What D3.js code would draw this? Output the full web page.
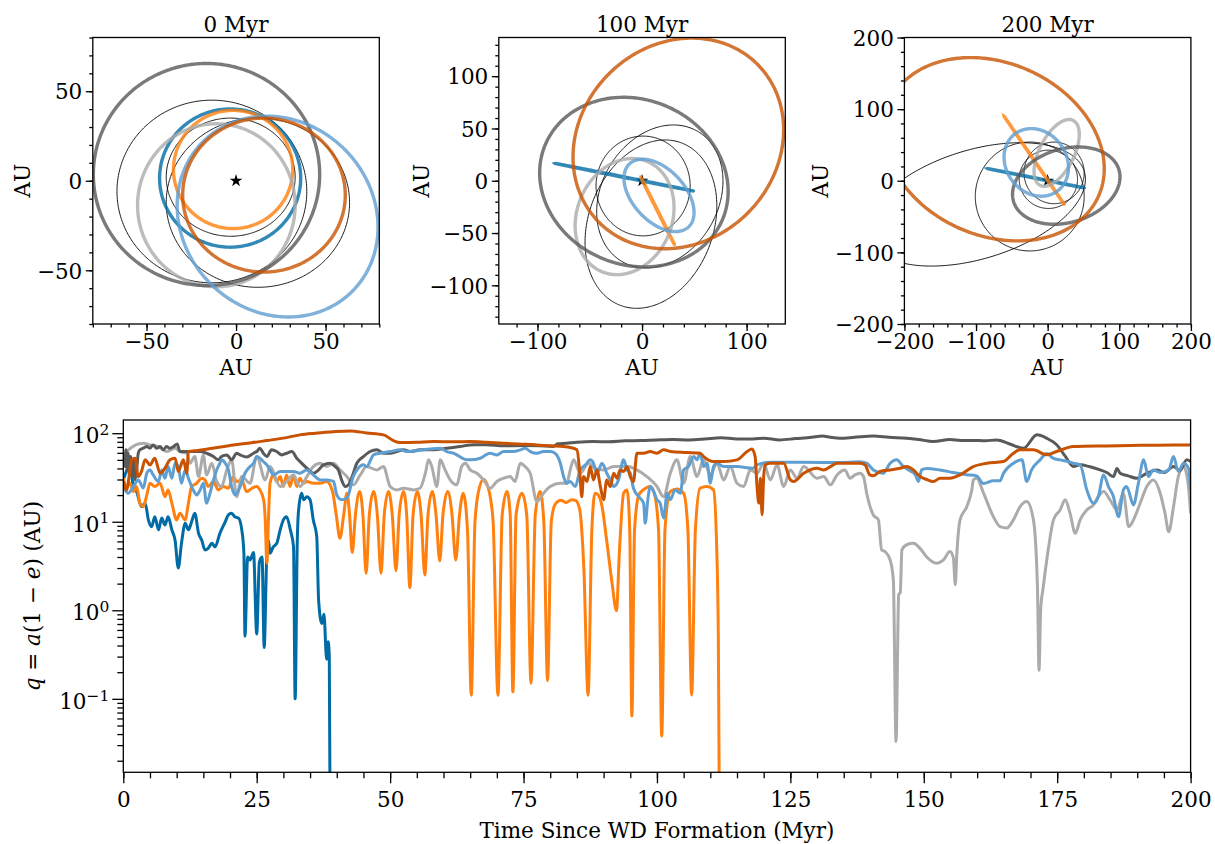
<!DOCTYPE html>
<html><head><meta charset="utf-8">
<script src="https://cdn.jsdelivr.net/npm/d3@7"></script>
<style>
body{margin:0;background:#fff;}
svg{display:block;}
</style></head><body>
<svg id="c" width="1215" height="844"></svg>
<script>
// ---------------- DATA ----------------
const seriesColors = ['#006BA4','#FF800E','#ABABAB','#595959','#5F9ED1','#C85200'];
const panelTitles = ['0 Myr','100 Myr','200 Myr'];
const panelLimits = [80, 137, 200];
const xTicks0 = [-50,0,50], yTicks0 = [-50,0,50];
const xTicks1 = [-100,0,100], yTicks1 = [-100,-50,0,50,100];
const xTicks2 = [-200,-100,0,100,200], yTicks2 = [-200,-100,0,100,200];
const minorStep0 = [10,10], minorStep1 = [20,10], minorStep2 = [20,20];

// orbits: [cx, cy, a, b, rotationDeg] in AU ; colored order = seriesColors
const orbits0 = [[-3.3,1.5,39.4,38.6,0],[-1.65,6.3,33.3,33,0],[-11,-13.7,44,45.5,0],[-16.5,3.5,63.2,62,0],[23.2,-20,59,53,-45],[15.6,-8,45.4,43,0]];
const others0 = [[-13.5,-6,53,51,0],[12.2,-12.2,51.2,47.3,0],[-3,2,36,33,0]];
const orbits1 = [[-17.05,3.4,67.4,0.3,-11.3],[14.85,-28.8,35.8,0.3,-63.4],[-16.7,-34.3,57,45.5,68],[-7.8,-1.3,92,79,-23],[16.2,-14,41.3,24.8,-47],[34.7,35.7,107,94,45]];
const others1 = [[1,-5,45,47.7,0],[17,-15,72,56,60],[8.5,-41.5,83,59.7,69.5]];
const orbits2 = [[-16.5,3.5,68.8,0.3,-11.3],[-18.9,28.6,74.3,0.3,-55.7],[12.6,38.9,50.8,24.2,63],[26,-6.8,76.8,51.4,16.8],[-15.9,25.6,49.7,42.2,-53.6],[-75,44,160,120.4,-24.3]];
const others2 = [[-100,-33,158,76,17],[-25,-22,76,76,0],[9,11,42,43,0],[1,2,40.7,40.7,0]];

// bottom panel: pericentre distance q (AU) vs time (Myr)
const timeTicks = [0,25,50,75,100,125,150,175,200];
const qTicks = [0.1,1,10,100];
const qTickExp = ['−1','0','1','2'];

const darkBlue = [[0,29.7],[1.25,42],[1.9,25],[2.5,21.9],[3.4,14.8],[4.1,16.2],[4.7,10.5],[5.3,8.8],[5.9,11.4],[6.6,8.1],[7.2,11],[7.8,9.2],[8.4,11.4],[9.1,8.1],[9.7,6.2],[10.3,3.0],[10.9,5.7],[11.6,9.6],[12.2,8.1],[12.8,10],[13.4,12.5],[14.1,7.4],[14.7,6.2],[15.3,4.8],[15.9,5],[16.6,5.7],[17.2,5.2],[18.1,7.4],[19.1,10],[19.7,12],[20.3,12.5],[20.9,11.4],[21.6,11],[22.2,8.1],[22.6,4.4],[22.8,0.51],[23.3,4],[23.75,3.7],[24.4,4.5],[25,0.54],[25.5,3.5],[26,4],[26.4,0.38],[26.9,4.4],[27.2,6.2],[27.5,4.4],[28.1,5.2],[28.75,5.7],[29.4,8.1],[30,10.5],[30.6,11.4],[31.3,8.1],[31.9,5.2],[32.2,0.1],[32.6,6],[32.8,12.5],[33.4,21],[33.8,17.7],[34.4,19.2],[35,17.7],[35.6,10.5],[36.25,6.8],[36.6,1.3],[37.2,0.71],[37.6,0.9],[38.1,0.28],[38.4,0.44],[38.6,0.3],[38.75,0.005]];
const orange = [[0,31],[0.6,25],[1.25,27.2],[1.9,21.9],[2.5,25],[3.1,16.2],[3.75,14.8],[4.4,20],[5,27.2],[5.9,25],[6.9,27.2],[7.8,19.2],[8.4,22.9],[9.1,16.2],[10,10.5],[10.6,12.5],[11.6,10.5],[12.2,16.2],[12.8,25],[13.75,27.2],[14.7,31],[15.3,29.7],[15.9,25],[16.9,28.5],[17.8,22.9],[18.75,25],[19.7,23.9],[20.6,32.4],[21.25,28.5],[22.2,29.7],[23.1,21.9],[24.1,23.9],[25,25],[25.6,22.9],[26.3,17.7],[26.6,10.5],[26.9,3.4],[27.2,10.5],[27.5,27.2],[28.1,33.8],[28.75,28.5],[29.4,32.4],[30,25],[30.6,33.8],[31.25,25],[31.9,33.8],[32.5,25],[33.1,31],[33.75,27.2],[34.4,28.5],[35.6,27.2],[36.9,27.2],[38.1,28.5],[39.2,22],[39.9,12],[40.6,6.5],[41.3,12],[41.9,21],[42.4,12],[42.9,4.5],[43.5,12],[44.3,22],[44.9,12],[45.5,2.6],[46.1,12],[46.9,22],[47.6,12],[48.3,2.6],[48.9,12],[49.7,22],[50.4,12],[51.1,2.8],[51.7,12],[52.5,22],[53.1,12],[53.7,1.8],[54.3,12],[55.1,22],[55.8,12],[56.5,2.5],[57.1,12],[57.9,22],[58.6,12],[59.3,3.6],[59.9,12],[60.8,22],[61.6,12],[62.3,3.7],[63,12],[63.7,21],[64.5,8],[65.2,0.11],[65.9,10],[66.7,24],[67.5,30],[68.4,24],[69.3,10],[70.2,0.11],[71,12],[71.9,22],[72.5,12],[73,0.12],[73.6,12],[74.7,21],[75.6,12],[76.4,0.15],[77.2,12],[78.1,22],[78.8,10],[79.5,0.16],[80.2,10],[81,16],[82,17.5],[83,16.5],[84,17.7],[84.7,17.5],[85.5,14],[86.3,3],[87.1,0.11],[87.8,8],[88.4,21],[89,20],[89.7,15],[90.6,6],[91.6,2],[92.4,0.99],[93,5],[93.75,21],[94.4,22.9],[94.9,8],[95.3,0.064],[95.8,8],[96.6,20],[97.5,23],[98.75,25],[99.5,21],[100.3,8],[100.9,0.038],[101.5,8],[102.5,22],[103.75,23.5],[105,21],[105.8,8],[106.5,0.11],[107.2,8],[108.1,24],[109.4,25],[110.6,22.9],[111.2,5],[111.5,0.5],[111.7,0.005]];
const lightGrey = [[0,55],[1,65],[2,72],[3,76],[3.75,77.1],[5,73.8],[6.6,70.6],[8.1,62.1],[9.7,67.7],[10.6,62.1],[11.9,59.4],[12.5,45.8],[13.4,54.5],[14.1,32.4],[15,56.9],[15.6,33.8],[16.6,45.8],[17.5,28.5],[18.4,25],[19.4,38.5],[20.3,50],[21.25,19.2],[22.2,32.4],[23.75,27.2],[25,54.5],[26.6,29.7],[27.5,42],[29.4,25],[30.6,28.5],[31.9,33.8],[33.1,25],[34.4,32.4],[35.6,42],[36.9,45.8],[38.1,42],[39.4,45.8],[40.6,38.5],[41.9,32.4],[43.1,26.1],[44.4,33.8],[45.6,42],[47.5,38.5],[48.75,42],[50,25],[51.25,22.9],[52.5,23.9],[54.4,22.9],[55.6,23.9],[56.6,35.3],[57.2,50],[57.8,42],[58.75,25],[59.4,50],[60.3,38.5],[61.25,29.7],[62.5,26.1],[63.4,42],[64.1,45.8],[65,38.5],[66.25,35.3],[67.5,29.7],[68.75,23.9],[70,28.5],[71.25,31],[72.5,32.4],[73.4,28.5],[74.4,45.8],[75.3,42],[76.25,35.3],[77.5,16.9],[78.75,21],[80,25],[81.9,27.2],[83.1,27.2],[83.75,38.5],[84.4,50],[85.6,35.3],[87.2,45.8],[88.4,40],[90,38.5],[91.9,42],[94.4,42],[96.25,38.5],[98.1,32.4],[100,25],[101.25,19.2],[102.5,35.3],[103.75,50],[105,27.2],[106.25,54.5],[107.5,32.4],[108.75,50],[110,33.8],[111.25,45.8],[112.5,29.7],[113.75,42],[115,27.2],[116.25,25],[117.5,38.5],[118.75,35.3],[120,45.8],[121.25,29.7],[122.5,43.9],[123.75,25],[125,38.5],[126.25,31],[127.5,42],[130,31],[131.25,32.4],[132.5,26.1],[133.75,33.8],[135.2,38.5],[136.2,31],[137.1,33.8],[138.05,35.3],[138.7,32.4],[139.3,21],[140.55,11.9],[141.5,10.5],[142.1,4.8],[142.75,4.6],[143.7,3.7],[144.3,2.2],[144.8,0.033],[145.3,1.5],[145.6,1.6],[145.9,4.8],[146.8,5.5],[148.05,5.7],[149.3,5.0],[150.55,4.0],[152.4,3.4],[153.7,3.7],[154.9,4.6],[155.55,3.9],[155.9,1.94],[156.2,4.4],[156.8,10.5],[158.05,14.8],[159,22.9],[159.3,29.7],[159.9,31],[161.2,21],[163.05,11.4],[164.3,8.8],[165.55,8.5],[166.8,10.5],[168.05,14.8],[169.3,16.9],[170.55,10.5],[171.3,1.85],[171.6,0.21],[171.9,1.0],[172.4,1.85],[173.4,5.2],[174.3,10.5],[175.55,13.6],[176.5,17.7],[177.4,12.5],[178.4,7.4],[179.3,10.5],[180.55,13.6],[181.8,15.5],[182.7,19.2],[183.7,21.9],[184.9,17.7],[186.2,13.6],[187.4,21],[188.4,8.8],[189.3,10.5],[190.55,16.2],[191.8,25],[193.05,29.7],[194.3,21],[195.2,12.5],[195.9,7.7],[196.8,14.8],[197.7,32.4],[198.7,42],[199.6,25],[200,12.5]];
const darkGrey = [[0,60],[0.3,42],[0.5,64.9],[0.75,38.5],[0.9,59.4],[1.1,35.3],[1.4,54.5],[1.6,32.4],[1.9,50],[2.2,29.7],[2.5,38.5],[2.8,59.4],[3.1,64.9],[3.75,67.7],[4.4,70.6],[5,67.7],[5.6,73.8],[6.25,67.7],[6.9,70.6],[7.5,64.9],[8.1,70.6],[8.75,67.7],[9.4,70.6],[10.1,75.7],[10.6,62.1],[11.6,62.1],[13.1,62.1],[14.4,62.1],[15.6,59.4],[16.9,54.5],[17.8,50],[18.4,54.5],[19.4,56.9],[20.3,50],[21.25,59.4],[21.9,56.9],[23.1,53.8],[24.4,59.4],[25,62.1],[25.6,67.7],[26.25,59.4],[26.9,54.5],[27.8,64.9],[28.75,62.1],[29.7,56.9],[30.6,59.4],[31.6,62.1],[32.5,52.2],[33.1,47.9],[34.4,40.2],[35.6,35.3],[36.6,38.5],[37.5,43.9],[38.75,45.8],[39.7,42],[40.3,38.5],[40.9,29.7],[41.6,25],[42.2,26.1],[43.1,35.3],[43.75,45.8],[45,54.5],[46.25,62.1],[47.5,64.9],[48.75,59.4],[50,59.4],[51.25,62.1],[52.5,64.9],[53.75,62.1],[55.6,64.9],[58.1,64.9],[60.6,67.7],[63.1,70.6],[65,73.8],[68,74],[71.25,72],[75,72.5],[78,72],[80.6,71],[81.4,76],[83,77],[85,79],[88,80.5],[91,80],[94,82],[97,82.6],[100,84],[103,85],[106,84],[109,86],[112,89],[115,86],[118,86],[120,88],[123,84],[126,87],[129,90],[131,93],[132.5,90],[134.3,87.8],[137,90],[140.55,93],[143.5,90],[146.8,87.8],[149,85],[151.8,80.5],[154.9,85],[157,83],[159.3,83],[161.5,82],[163.7,84],[166,76],[168.7,67.7],[171.2,95.8],[173,88],[174.9,74],[176.5,55],[178.05,42],[179.3,43.9],[181,42],[183.05,38.5],[184.3,36],[185.55,32.4],[186.2,40],[186.8,35.3],[188.3,33],[189.9,31],[191.8,35.3],[193.7,38.5],[195,36],[196.8,42],[198,38],[199.3,50],[200,47.9]];
const lightBlue = [[0,25],[0.9,21],[1.9,25],[2.8,29.7],[3.75,24],[4.4,35.3],[5,38.5],[5.6,33.8],[6.6,28.5],[7.2,38.5],[7.8,31],[8.4,42],[9.1,31],[9.7,45.8],[10.3,42],[10.9,27.2],[11.6,38.5],[12.2,31],[13.1,22.9],[13.75,20.1],[14.4,22.9],[15,27.2],[15.6,16.2],[16.25,21],[16.9,29.7],[17.5,38.5],[18.1,45.8],[18.4,50],[19.1,45.8],[19.7,38.5],[20.3,25],[20.9,20.1],[21.9,25],[22.8,35.3],[23.75,42],[24.4,45.8],[25,54.5],[25.6,52.2],[26.25,47.9],[26.9,43.9],[27.5,38.5],[28.1,33.8],[28.75,35.3],[29.4,36.9],[30.6,36.9],[31.9,36.9],[33.1,35.3],[34.4,38.5],[35.6,33.8],[36.9,29.7],[38.1,29.7],[39.4,28.5],[40,20.1],[40.9,17.7],[41.9,18.4],[43.1,32.4],[44,40.2],[45,43.9],[45.6,42],[46.9,57],[48.1,59.4],[50,62.1],[51.9,64.9],[53.1,62.1],[55,63.5],[57.5,66.3],[59.4,67.7],[60.6,62.1],[61.9,59.4],[64.4,50],[65,50],[66.9,52.2],[68.75,59.4],[70,56.9],[71.25,62.1],[73.1,62.1],[74.4,64.9],[75.3,67.7],[76.25,62.1],[77.5,59.4],[78.75,62.1],[80,62.1],[80.9,59.4],[81.9,45.8],[82.5,32.4],[83.1,27.2],[83.75,28.5],[84.7,25],[85.6,38.5],[86.6,43.9],[87.5,50],[88.1,45.8],[88.75,35.3],[89.7,45.8],[90.6,35.3],[91.25,29.7],[91.9,25],[92.8,29.7],[93.75,50],[94.4,38.5],[95,35.3],[95.6,23.9],[96.6,19.2],[97.5,16.2],[97.8,9.6],[98.3,18],[98.75,25],[99.4,21.9],[100,17.7],[100.6,16.2],[101.25,11],[101.9,21],[102.5,17.7],[103.4,22.9],[104.4,21],[105,38.5],[105.9,42],[106.9,54.5],[107.5,50],[108.1,59.4],[108.75,42],[109.4,45.8],[110,27.2],[110.6,42],[111.25,45.8],[112.5,42],[115,42],[118,40.2],[118.75,43.9],[121.25,47],[127.5,47],[134.3,46.6],[138,47.5],[139.3,45.8],[140.55,38.5],[142.4,35.3],[143.7,45.8],[144.9,50],[146.2,42],[147.3,38],[148.4,34],[149,28.5],[149.6,38.5],[150.55,40],[153,38.5],[155.5,36],[158,34],[159.9,33],[161.2,27],[163.05,29],[164.3,29],[164.9,35],[166.8,45.8],[168.4,50],[169.3,28.5],[170.2,38.5],[171.8,50],[173,59],[174.3,52],[175.55,50],[177,47.9],[178,45.8],[179.3,44],[180.55,22.9],[181.8,16.2],[182.7,19.2],[183.7,33.8],[184.6,25],[185.5,19.5],[186.5,11.4],[187.4,22.9],[188,25],[189.3,15.5],[190.2,27],[191.2,50],[192.1,32.4],[193,38.5],[194.3,36],[195.9,38.5],[196.8,54.5],[197.7,37],[198.7,45.8],[199.6,40],[200,22.9]];
const darkOrange = [[0,28.5],[0.6,22.9],[1.6,50],[2.2,52.2],[2.8,32.4],[3.4,36.9],[4.1,50],[5,43.9],[5.9,52.2],[6.9,35.3],[7.8,40.2],[8.75,50],[9.7,52.2],[10.3,36.9],[11.25,50],[11.9,35.3],[12.2,62.1],[14,64],[17,68],[20.6,73.8],[24,78],[26.9,82.6],[30,88],[33.1,95.8],[36,100],[39.4,104],[42.5,106],[45.6,100.7],[48.75,95.8],[50.6,82.6],[51.9,78.5],[55,79],[58.1,80.5],[62,80],[65,80.5],[68,79],[71.25,77.1],[74,75.5],[77.5,73.8],[80,72],[82.5,70.6],[83.75,69],[85,64.9],[85.6,32],[85.9,19.2],[86.25,32.4],[86.9,28.5],[87.5,42],[88.1,29.7],[88.75,38.5],[89.4,25],[90,17.7],[90.6,29.7],[91.25,25],[91.9,35.3],[92.5,31],[93.1,38.5],[93.75,36.9],[94.4,42],[95,32.4],[95.6,28.5],[96.25,59.4],[97.5,59.4],[98.75,62.1],[100,59.4],[101.25,64.9],[102.5,62.1],[105.6,60.5],[108.1,59.4],[108.75,54.5],[110.6,47.9],[112.5,47.9],[115,50],[116.9,62.1],[117.8,66.5],[118.4,54.5],[118.75,25],[119.1,16.2],[119.4,31],[119.7,12],[120,32.4],[120.3,43.9],[121.25,45.8],[123.75,45.8],[125,29.7],[125.6,28.5],[127.5,35.3],[130,40.2],[131.25,38.5],[132.5,42],[133.75,45.8],[136.25,45.8],[138.05,45.8],[139,43.9],[139.9,33.8],[140.5,33],[141.8,36.9],[143.7,38.5],[145.55,40.2],[146.8,42],[148.05,38.5],[149.3,32.4],[150.55,30],[151.8,28.5],[153.05,31],[154.9,31],[156.8,33.8],[159.3,42],[161.8,45.8],[164.9,47.9],[166.8,59.4],[168.05,64.9],[170.55,64.9],[173.05,57],[174.9,62.1],[178.05,70.6],[184.3,71.9],[190.55,73],[196.8,73.8],[200,73.8]];

// ---------------- DRAWING ----------------
const FONT = '"DejaVu Serif", serif';
const FS = 21.5;
const svg = d3.select('#c');
svg.append('rect').attr('width',1215).attr('height',844).attr('fill','#fff');

function styleAxis(g){
  g.attr('font-family',FONT).attr('font-size',FS);
  g.selectAll('.domain').remove();
  g.selectAll('.tick line').attr('stroke','#000').attr('stroke-width',1.3);
  g.selectAll('.tick text').attr('fill','#000');
}
function range(lo,hi,step){const r=[];for(let v=Math.ceil(lo/step)*step; v<=hi+1e-9; v+=step) r.push(+v.toFixed(6)); return r;}

const panelSize = 286.5, panelTop = 37.5;
const panelLefts = [92.8, 498.8, 904.4];
const allOrbits = [orbits0, orbits1, orbits2];
const allOthers = [others0, others1, others2];
const allXT = [xTicks0, xTicks1, xTicks2], allYT = [yTicks0, yTicks1, yTicks2];
const allMinor = [minorStep0, minorStep1, minorStep2];

function ellipsePath(o, sx, sy){
  const [cx,cy,a,b,rot] = o; const th = rot*Math.PI/180; const pts=[];
  for(let i=0;i<=360;i++){const t=i*Math.PI/180;
    const x = cx + a*Math.cos(t)*Math.cos(th) - b*Math.sin(t)*Math.sin(th);
    const y = cy + a*Math.cos(t)*Math.sin(th) + b*Math.sin(t)*Math.cos(th);
    pts.push([sx(x), sy(y)]);}
  return d3.line()(pts);
}

panelTitles.forEach((title, p) => {
  const L = panelLimits[p], x0 = panelLefts[p];
  const sx = d3.scaleLinear().domain([-L, L]).range([x0, x0+panelSize]);
  const sy = d3.scaleLinear().domain([-L, L]).range([panelTop+panelSize, panelTop]);
  const g = svg.append('g');
  const cid = 'clip'+p;
  svg.append('clipPath').attr('id',cid).append('rect').attr('x',x0).attr('y',panelTop).attr('width',panelSize).attr('height',panelSize);
  const pg = g.append('g').attr('clip-path',`url(#${cid})`);
  allOthers[p].forEach(o => pg.append('path').attr('d',ellipsePath(o,sx,sy)).attr('fill','none').attr('stroke','#000').attr('stroke-width',0.9));
  pg.append('path').attr('d', d3.symbol().type(d3.symbolStar).size(50)()).attr('transform',`translate(${sx(0)},${sy(0)})`).attr('fill','#000');
  allOrbits[p].forEach((o,i) => pg.append('path').attr('d',ellipsePath(o,sx,sy)).attr('fill','none')
     .attr('stroke',seriesColors[i]).attr('stroke-opacity',0.8).attr('stroke-width',3.4).attr('stroke-linecap','round'));
  const [mx,my] = allMinor[p];
  const gx = g.append('g').attr('transform',`translate(0,${panelTop+panelSize})`);
  gx.call(d3.axisBottom(sx).tickValues(range(-L,L,mx)).tickFormat('').tickSize(3.5).tickSizeOuter(0)); styleAxis(gx);
  const gx2 = g.append('g').attr('transform',`translate(0,${panelTop+panelSize})`);
  gx2.call(d3.axisBottom(sx).tickValues(allXT[p]).tickSize(7).tickPadding(3).tickFormat(d3.format('d')).tickSizeOuter(0)); styleAxis(gx2);
  const gy = g.append('g').attr('transform',`translate(${x0},0)`);
  gy.call(d3.axisLeft(sy).tickValues(range(-L,L,my)).tickFormat('').tickSize(3.5).tickSizeOuter(0)); styleAxis(gy);
  const gy2 = g.append('g').attr('transform',`translate(${x0},0)`);
  gy2.call(d3.axisLeft(sy).tickValues(allYT[p]).tickSize(7).tickPadding(3.5).tickFormat(d3.format('d')).tickSizeOuter(0)); styleAxis(gy2);
  gy2.selectAll('.tick text').attr('dy','0.36em');
  g.append('rect').attr('x',x0).attr('y',panelTop).attr('width',panelSize).attr('height',panelSize).attr('fill','none').attr('stroke','#000').attr('stroke-width',1.3);
  g.append('text').attr('x',x0+panelSize/2).attr('y',32).attr('text-anchor','middle').attr('font-family',FONT).attr('font-size',FS).text(title);
  g.append('text').attr('x',x0+panelSize/2).attr('y',375).attr('text-anchor','middle').attr('font-family',FONT).attr('font-size',FS).text('AU');
  const ylx = [22, 421, 820][p];
  g.append('text').attr('transform',`translate(${ylx+7.5},${panelTop+panelSize/2}) rotate(-90)`).attr('text-anchor','middle').attr('font-family',FONT).attr('font-size',FS).text('AU');
});

// bottom panel
const bx0 = 123.3, bx1 = 1190.6, by0 = 420, by1 = 772.3;
const xS = d3.scaleLinear().domain([0,200]).range([bx0,bx1]);
const yS = d3.scaleLog().domain([0.0148,141]).range([by1,by0]);
svg.append('clipPath').attr('id','clipB').append('rect').attr('x',bx0).attr('y',by0).attr('width',bx1-bx0).attr('height',by1-by0);
const bg = svg.append('g').attr('clip-path','url(#clipB)');
const line = d3.line().x(d=>xS(d[0])).y(d=>yS(d[1])).curve(d3.curveMonotoneX);
[darkBlue, orange, lightGrey, darkGrey, lightBlue, darkOrange].forEach((s,i)=>{
  bg.append('path').attr('d',line(s)).attr('fill','none').attr('stroke',seriesColors[i]).attr('stroke-width',3).attr('stroke-linejoin','round');
});
const bgx = svg.append('g').attr('transform',`translate(0,${by1})`);
bgx.call(d3.axisBottom(xS).tickValues(range(0,200,5)).tickFormat('').tickSize(6).tickSizeOuter(0)); styleAxis(bgx);
const bgx2 = svg.append('g').attr('transform',`translate(0,${by1})`);
bgx2.call(d3.axisBottom(xS).tickValues(timeTicks).tickFormat(d3.format('d')).tickSize(11).tickPadding(8).tickSizeOuter(0)); styleAxis(bgx2);
const minorQ = [];
[0.01,0.1,1,10,100].forEach(d=>{for(let k=2;k<=9;k++){const v=k*d; if(v>=0.0148 && v<=141) minorQ.push(v);}});
const bgy = svg.append('g').attr('transform',`translate(${bx0},0)`);
bgy.call(d3.axisLeft(yS).tickValues(minorQ).tickFormat('').tickSize(6).tickSizeOuter(0)); styleAxis(bgy);
const bgy2 = svg.append('g').attr('transform',`translate(${bx0},0)`);
bgy2.call(d3.axisLeft(yS).tickValues(qTicks).tickFormat('').tickSize(11).tickSizeOuter(0)); styleAxis(bgy2);
bgy2.selectAll('.tick').each(function(d,i){
  const t = d3.select(this).append('text').attr('x',-14).attr('dy','0.45em').attr('text-anchor','end').attr('fill','#000');
  t.append('tspan').text('10');
  t.append('tspan').attr('dy','-0.55em').attr('font-size',FS*0.72).text(qTickExp[i]);
});
svg.append('rect').attr('x',bx0).attr('y',by0).attr('width',bx1-bx0).attr('height',by1-by0).attr('fill','none').attr('stroke','#000').attr('stroke-width',1.3);
svg.append('text').attr('x',(bx0+bx1)/2).attr('y',838).attr('text-anchor','middle').attr('font-family',FONT).attr('font-size',FS).text('Time Since WD Formation (Myr)');
const yl = svg.append('text').attr('transform',`translate(40,${(by0+by1)/2}) rotate(-90)`).attr('text-anchor','middle').attr('font-family',FONT).attr('font-size',FS);
yl.append('tspan').attr('font-style','italic').text('q');
yl.append('tspan').text(' = ');
yl.append('tspan').attr('font-style','italic').text('a');
yl.append('tspan').text('(1 − ');
yl.append('tspan').attr('font-style','italic').text('e');
yl.append('tspan').text(') (AU)');
</script></body></html>
